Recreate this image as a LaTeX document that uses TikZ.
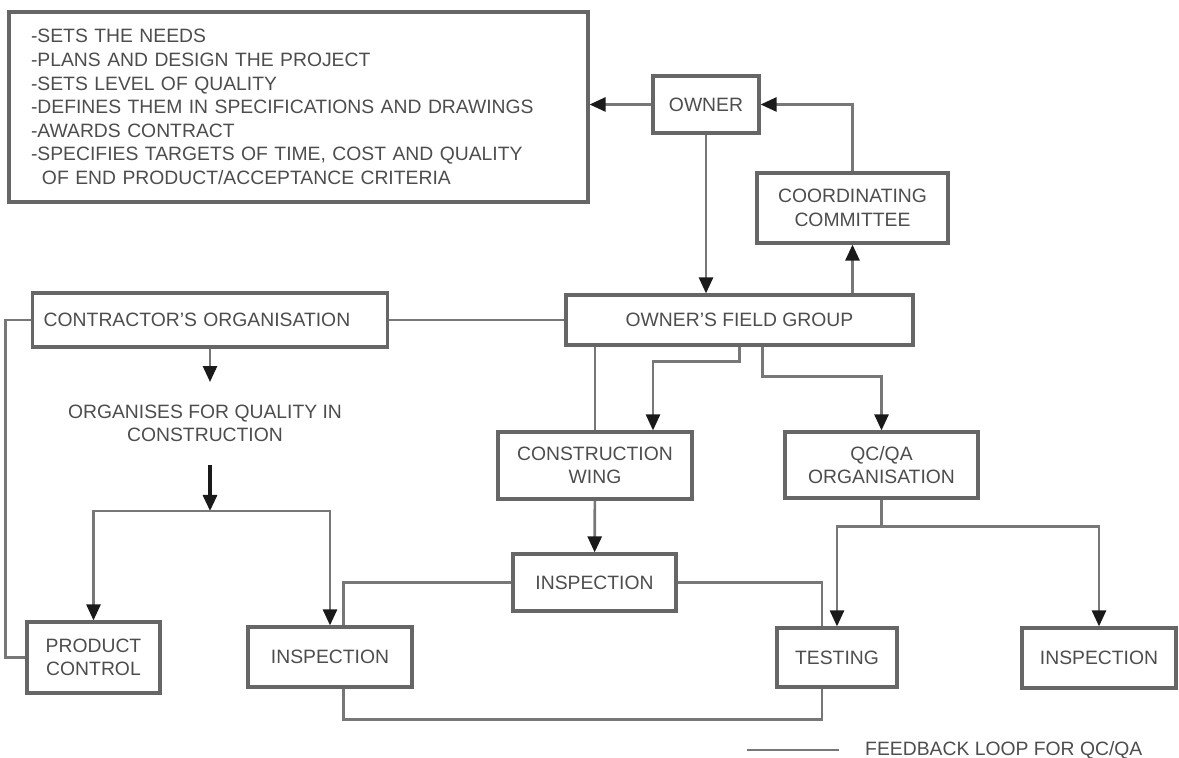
\documentclass[tikz,border=0pt]{standalone}
\usepackage{fontspec}
\setmainfont{Liberation Sans}
\usepackage{tikz}
\usetikzlibrary{arrows.meta, positioning}
\definecolor{qcline}{HTML}{777777}
\definecolor{qcbox}{HTML}{666666}
\definecolor{qctext}{HTML}{4D4D4D}
\definecolor{qctip}{HTML}{1A1A1A}

\begin{document}
\begin{tikzpicture}[
  unit/.style={draw=qcbox, line width=1.8pt, align=center, text=qctext, font=\fontsize{11}{13.4}\selectfont, inner sep=1mm},
  link/.style={draw=qcline, line width=1.5pt},
  flow/.style={link, -{Triangle[color=qctip, length=3.2mm, width=2.8mm]}},
  note/.style={align=center, text=qctext, font=\fontsize{11}{13.4}\selectfont}
]
\useasboundingbox (0,0) rectangle (23.58,15.16);

\node[unit, minimum width=11.58cm, minimum height=3.8cm, text width=10.7cm, align=left] (duties) at (5.97,13.02) {-SETS THE NEEDS\\ -PLANS AND DESIGN THE PROJECT\\ -SETS LEVEL OF QUALITY\\ -DEFINES THEM IN SPECIFICATIONS AND DRAWINGS\\ -AWARDS CONTRACT\\ -SPECIFIES TARGETS OF TIME, COST AND QUALITY\\ \hspace*{0.22cm}OF END PRODUCT/ACCEPTANCE CRITERIA};
\node[unit, minimum width=2.12cm, minimum height=1.14cm] (owner) at (14.12,13.07) {OWNER};
\node[unit, minimum width=3.82cm, minimum height=1.4cm] (committee) at (17.05,11.0) {COORDINATING\\ COMMITTEE};
\node[unit, minimum width=6.94cm, minimum height=1.0cm] (field) at (14.79,8.76) {OWNER'S FIELD GROUP};
\node[unit, minimum width=7.11cm, minimum height=1.08cm, text width=6.65cm, align=left] (contractor) at (4.2,8.76) {CONTRACTOR'S ORGANISATION};
\node[note, inner ysep=4.5mm] (organises) at (4.1,6.69) {ORGANISES FOR QUALITY IN\\ CONSTRUCTION};
\node[unit, minimum width=3.88cm, minimum height=1.34cm] (wing) at (11.9,5.85) {CONSTRUCTION\\ WING};
\node[unit, minimum width=3.86cm, minimum height=1.32cm] (qcqa) at (17.63,5.86) {QC/QA\\ ORGANISATION};
\node[unit, minimum width=3.26cm, minimum height=1.14cm] (inspmid) at (11.89,3.51) {INSPECTION};
\node[unit, minimum width=2.66cm, minimum height=1.42cm] (product) at (1.87,2.01) {PRODUCT\\ CONTROL};
\node[unit, minimum width=3.28cm, minimum height=1.2cm] (inspleft) at (6.6,2.02) {INSPECTION};
\node[unit, minimum width=2.4cm, minimum height=1.18cm] (testing) at (16.74,2.01) {TESTING};
\node[unit, minimum width=3.08cm, minimum height=1.2cm] (inspright) at (21.98,2.0) {INSPECTION};
\node[note, anchor=west] (legend) at (17.18,0.16) {FEEDBACK LOOP FOR QC/QA};

\draw[flow] (owner.west) -- (owner.west -| duties.east);
\draw[flow] (committee.north) |- (owner.east);
\draw[flow] (owner.south) -- (owner.south |- field.north);
\draw[flow] (committee.south |- field.north) -- (committee.south);
\draw[link] (contractor.east) -- (field.west);
\draw[link] (contractor.west) -- ++(-0.5,0) |- (product.west);
\draw[flow] (contractor.south) -- (contractor.south |- organises.north);
\coordinate (split) at (4.2,4.94);
\draw[flow, draw=qctip, line width=1.8pt] (split |- organises.south) -- (split);
\draw[flow] (split) -| (product.north);
\draw[flow] (split) -| (inspleft.north);
\draw[link] (wing.north |- field.south) -- (wing.north);
\draw[flow] (field.south) -- ++(0,-0.3) -| ([xshift=1.16cm]wing.north);
\draw[flow] ([xshift=0.46cm]field.south) -- ++(0,-0.6) -| (qcqa.north);
\draw[flow] (wing) -- (inspmid);
\draw[link] (inspmid.west) -| ([xshift=0.27cm]inspleft.north);
\draw[link] (inspmid.east) -| ([xshift=-0.3cm]testing.north);
\draw[link] ([xshift=0.27cm]inspleft.south) -- ++(0,-0.62) -| ([xshift=-0.3cm]testing.south);
\draw[link] (qcqa.south) -- ++(0,-0.54) coordinate (qcsplit);
\draw[flow] (qcsplit) -| (testing.north);
\draw[flow] (qcsplit) -| (inspright.north);
\draw[link] ([xshift=-0.4cm]legend.west) -- ++(-1.84,0);
\end{tikzpicture}
\end{document}
